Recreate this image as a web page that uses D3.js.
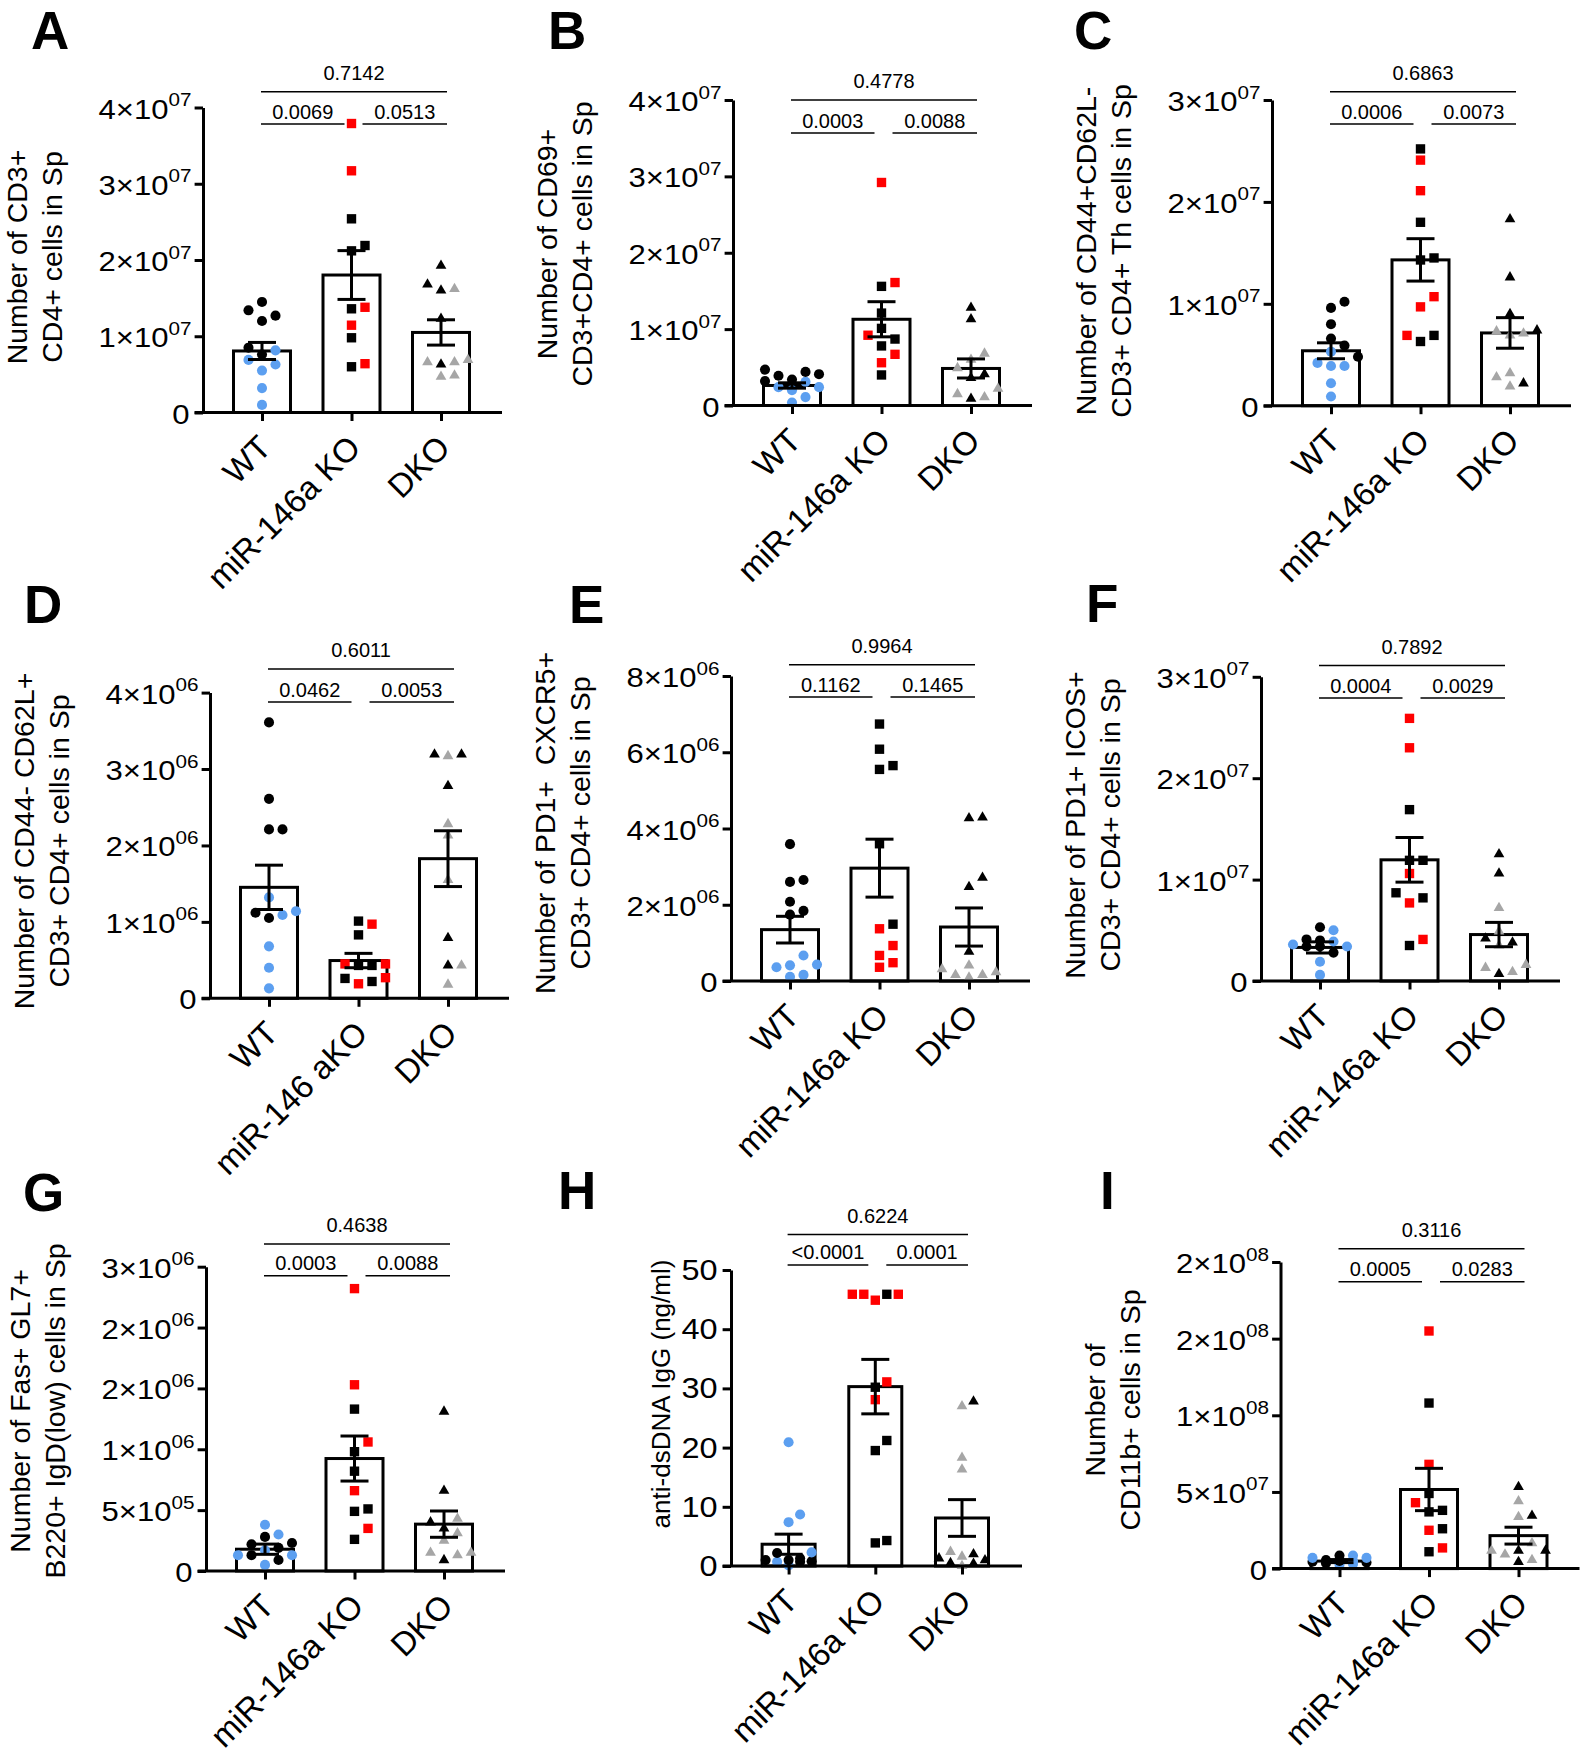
<!DOCTYPE html>
<html><head><meta charset="utf-8">
<script src="https://cdn.jsdelivr.net/npm/d3@7"></script>
<style>
body{margin:0;background:#fff;}
svg{display:block;font-family:"Liberation Sans",Arial,Helvetica,sans-serif;}
</style></head><body>
<svg id="fig" width="1587" height="1755"></svg>
<script>
// ---------------- DATA ----------------
const categories  = ["WT", "miR-146a KO", "DKO"];
const categoriesD = ["WT", "miR-146 aKO", "DKO"];

// A  (values in units of 1e7)
const aWtBlack  = [1.45, 1.34, 1.27, 1.20, 0.85, 0.76];
const aWtBlue   = [0.815, 0.69, 0.63, 0.55, 0.32, 0.10];
const aKoBlack  = [2.54, 2.19, 2.12, 1.36, 0.98, 0.60];
const aKoRed    = [3.79, 3.17, 1.38, 1.145, 0.64];
const aDkoBlack = [1.925, 1.68, 1.60, 1.23, 0.63];
const aDkoGrey  = [1.62, 0.69, 0.66, 0.66, 0.485, 0.47];
const aMeans = [0.807, 1.803, 1.05];
const aSems  = [0.112, 0.32, 0.166];
const aTicks = [0, 1, 2, 3, 4];
const aTickLabels = ["0", "1×10^07", "2×10^07", "3×10^07", "4×10^07"];
const aPvals = ["0.0069", "0.0513", "0.7142"];
const aTitle = ["Number of CD3+", "CD4+ cells in Sp"];

// B  (1e7)
const bWtBlack  = [0.47, 0.44, 0.41, 0.39, 0.34, 0.32];
const bWtBlue   = [0.31, 0.24, 0.24, 0.20, 0.11, 0.04];
const bKoBlack  = [1.56, 1.21, 1.01, 0.87, 0.78, 0.40];
const bKoRed    = [2.92, 1.61, 0.92, 0.67, 0.56];
const bDkoBlack = [1.28, 1.13, 0.41, 0.36, 0.09];
const bDkoGrey  = [0.68, 0.60, 0.49, 0.22, 0.15, 0.11];
const bMeans = [0.262, 1.129, 0.485];
const bSems  = [0.035, 0.23, 0.125];
const bTicks = [0, 1, 2, 3, 4];
const bTickLabels = ["0", "1×10^07", "2×10^07", "3×10^07", "4×10^07"];
const bPvals = ["0.0003", "0.0088", "0.4778"];
const bTitle = ["Number of CD69+", "CD3+CD4+ cells in Sp"];

// C  (1e7)
const cWtBlack  = [1.02, 0.96, 0.80, 0.66, 0.59, 0.48];
const cWtBlue   = [0.53, 0.42, 0.39, 0.39, 0.22, 0.09];
const cKoBlack  = [2.52, 1.80, 1.45, 1.43, 0.69, 0.63];
const cKoRed    = [2.41, 2.11, 1.07, 0.97, 0.69];
const cDkoBlack = [1.83, 1.26, 0.90, 0.74, 0.22];
const cDkoGrey  = [0.73, 0.71, 0.69, 0.32, 0.28, 0.19];
const cMeans = [0.539, 1.431, 0.714];
const cSems  = [0.078, 0.208, 0.15];
const cTicks = [0, 1, 2, 3];
const cTickLabels = ["0", "1×10^07", "2×10^07", "3×10^07"];
const cPvals = ["0.0006", "0.0073", "0.6863"];
const cTitle = ["Number of CD44+CD62L-", "CD3+ CD4+ Th cells in Sp"];

// D  (1e6)
const dWtBlack  = [3.61, 2.61, 2.21, 2.21, 1.12, 1.05];
const dWtBlue   = [1.32, 1.14, 1.09, 0.68, 0.40, 0.13];
const dKoBlack  = [1.01, 0.83, 0.43, 0.43, 0.26, 0.22];
const dKoRed    = [0.97, 0.45, 0.45, 0.27, 0.19];
const dDkoBlack = [3.19, 3.19, 2.78, 0.79, 0.43];
const dDkoGrey  = [3.17, 2.28, 2.13, 1.55, 0.43, 0.18];
const dMeans = [1.452, 0.494, 1.827];
const dSems  = [0.29, 0.094, 0.365];
const dTicks = [0, 1, 2, 3, 4];
const dTickLabels = ["0", "1×10^06", "2×10^06", "3×10^06", "4×10^06"];
const dPvals = ["0.0462", "0.0053", "0.6011"];
const dTitle = ["Number of CD44- CD62L+", "CD3+ CD4+ cells in Sp"];

// E  (1e6)
const eWtBlack  = [3.59, 2.65, 2.60, 2.08, 1.84, 1.74];
const eWtBlue   = [0.67, 0.43, 0.41, 0.36, 0.16, 0.11];
const eKoBlack  = [6.74, 6.08, 5.65, 5.55, 3.60, 1.49];
const eKoRed    = [1.37, 0.93, 0.67, 0.48, 0.36];
const eDkoBlack = [4.29, 4.27, 2.71, 2.47, 0.77];
const eDkoGrey  = [0.41, 0.31, 0.23, 0.16, 0.16, 0.09];
const eMeans = [1.347, 2.96, 1.416];
const eSems  = [0.35, 0.76, 0.5];
const eTicks = [0, 2, 4, 6, 8];
const eTickLabels = ["0", "2×10^06", "4×10^06", "6×10^06", "8×10^06"];
const ePvals = ["0.1162", "0.1465", "0.9964"];
const eTitle = ["Number of PD1+  CXCR5+", "CD3+ CD4+ cells in Sp"];

// F  (1e7)
const fWtBlack  = [0.53, 0.41, 0.40, 0.34, 0.34, 0.28];
const fWtBlue   = [0.50, 0.39, 0.36, 0.34, 0.19, 0.06];
const fKoBlack  = [1.69, 1.19, 1.19, 0.87, 0.82, 0.35];
const fKoRed    = [2.59, 2.30, 1.06, 0.77, 0.41];
const fDkoBlack = [1.25, 1.06, 0.42, 0.38, 0.07];
const fDkoGrey  = [0.72, 0.49, 0.35, 0.16, 0.13, 0.09];
const fMeans = [0.331, 1.195, 0.458];
const fSems  = [0.055, 0.22, 0.12];
const fTicks = [0, 1, 2, 3];
const fTickLabels = ["0", "1×10^07", "2×10^07", "3×10^07"];
const fPvals = ["0.0004", "0.0029", "0.7892"];
const fTitle = ["Number of PD1+ ICOS+", "CD3+ CD4+ cells in Sp"];

// G  (1e6)
const gWtBlack  = [0.28, 0.23, 0.22, 0.19, 0.13, 0.09];
const gWtBlue   = [0.38, 0.30, 0.17, 0.13, 0.13, 0.05];
const gKoBlack  = [1.33, 0.98, 0.82, 0.51, 0.49, 0.26];
const gKoRed    = [2.32, 1.53, 1.06, 0.66, 0.35];
const gDkoBlack = [1.31, 0.66, 0.40, 0.35, 0.09];
const gDkoGrey  = [0.43, 0.31, 0.25, 0.15, 0.15, 0.13];
const gMeans = [0.179, 0.924, 0.385];
const gSems  = [0.042, 0.185, 0.108];
const gTicks = [0, 0.5, 1, 1.5, 2, 2.5];
const gTickLabels = ["0", "5×10^05", "1×10^06", "2×10^06", "2×10^06", "3×10^06"];
const gPvals = ["0.0003", "0.0088", "0.4638"];
const gTitle = ["Number of Fas+ GL7+", "B220+ IgD(low) cells in Sp"];

// H  (ng/ml)
const hWtBlack  = [2.2, 1.3, 1.0, 1.0, 0.8, 0.7];
const hWtBlue   = [20.9, 8.7, 7.4, 2.3, 0.7, 0.1];
const hKoBlack  = [45.9, 30.2, 21.2, 19.5, 4.3, 3.9];
const hKoRed    = [45.9, 45.9, 45.9, 44.9, 31.1, 28.1];
const hDkoBlack = [27.8, 2.0, 1.3, 1.0, 0.5, 0.4];
const hDkoGrey  = [27.0, 18.3, 16.3, 2.4, 1.6, 0.0];
const hMeans = [3.68, 30.3, 8.11];
const hSems  = [1.7, 4.6, 3.1];
const hTicks = [0, 10, 20, 30, 40, 50];
const hTickLabels = ["0", "10", "20", "30", "40", "50"];
const hPvals = ["<0.0001", "0.0001", "0.6224"];
const hTitle = ["anti-dsDNA IgG (ng/ml)"];

// I  (1e7)
const iWtBlack  = [0.85, 0.55, 0.50, 0.45, 0.40, 0.35];
const iWtBlue   = [0.85, 0.70, 0.70, 0.50, 0.30, 0.25];
const iKoBlack  = [10.8, 4.9, 3.8, 3.7, 2.6, 1.1];
const iKoRed    = [15.5, 6.8, 4.3, 2.5, 1.35];
const iDkoBlack = [5.33, 3.45, 1.17, 1.17, 0.44];
const iDkoGrey  = [4.4, 3.37, 1.66, 1.17, 0.93, 0.56];
const iMeans = [0.49, 5.16, 2.15];
const iSems  = [0.1, 1.38, 0.55];
const iTicks = [0, 5, 10, 15, 20];
const iTickLabels = ["0", "5×10^07", "1×10^08", "2×10^08", "2×10^08"];
const iPvals = ["0.0005", "0.0283", "0.3116"];
const iTitle = ["Number of", "CD11b+ cells in Sp"];

// ---------------- PANELS (built from the arrays) ----------------
const panels = [
  {id:"A", cats:categories,  wt:[aWtBlack,aWtBlue], ko:[aKoBlack,aKoRed], dko:[aDkoBlack,aDkoGrey], means:aMeans, sems:aSems, ticks:aTicks, tickLabels:aTickLabels, pvals:aPvals, title:aTitle},
  {id:"B", cats:categories,  wt:[bWtBlack,bWtBlue], ko:[bKoBlack,bKoRed], dko:[bDkoBlack,bDkoGrey], means:bMeans, sems:bSems, ticks:bTicks, tickLabels:bTickLabels, pvals:bPvals, title:bTitle},
  {id:"C", cats:categories,  wt:[cWtBlack,cWtBlue], ko:[cKoBlack,cKoRed], dko:[cDkoBlack,cDkoGrey], means:cMeans, sems:cSems, ticks:cTicks, tickLabels:cTickLabels, pvals:cPvals, title:cTitle},
  {id:"D", cats:categoriesD, wt:[dWtBlack,dWtBlue], ko:[dKoBlack,dKoRed], dko:[dDkoBlack,dDkoGrey], means:dMeans, sems:dSems, ticks:dTicks, tickLabels:dTickLabels, pvals:dPvals, title:dTitle},
  {id:"E", cats:categories,  wt:[eWtBlack,eWtBlue], ko:[eKoBlack,eKoRed], dko:[eDkoBlack,eDkoGrey], means:eMeans, sems:eSems, ticks:eTicks, tickLabels:eTickLabels, pvals:ePvals, title:eTitle},
  {id:"F", cats:categories,  wt:[fWtBlack,fWtBlue], ko:[fKoBlack,fKoRed], dko:[fDkoBlack,fDkoGrey], means:fMeans, sems:fSems, ticks:fTicks, tickLabels:fTickLabels, pvals:fPvals, title:fTitle},
  {id:"G", cats:categories,  wt:[gWtBlack,gWtBlue], ko:[gKoBlack,gKoRed], dko:[gDkoBlack,gDkoGrey], means:gMeans, sems:gSems, ticks:gTicks, tickLabels:gTickLabels, pvals:gPvals, title:gTitle},
  {id:"H", cats:categories,  wt:[hWtBlack,hWtBlue], ko:[hKoBlack,hKoRed], dko:[hDkoBlack,hDkoGrey], means:hMeans, sems:hSems, ticks:hTicks, tickLabels:hTickLabels, pvals:hPvals, title:hTitle},
  {id:"I", cats:categories,  wt:[iWtBlack,iWtBlue], ko:[iKoBlack,iKoRed], dko:[iDkoBlack,iDkoGrey], means:iMeans, sems:iSems, ticks:iTicks, tickLabels:iTickLabels, pvals:iPvals, title:iTitle}
];

// ---------------- LAYOUT (positions / sizes) ----------------
const layout = [
  {ax:203,   y0:412.5,  yTop:107.5,  lx:31,   ly:49,   tCy:257,  topLine:91.7,   lowLine:124},
  {ax:733,   y0:405.5,  yTop:100,    lx:548,  ly:49,   tCy:244,  topLine:100,    lowLine:133},
  {ax:1272,  y0:405.7,  yTop:100,    lx:1074, ly:49,   tCy:251,  topLine:91.7,   lowLine:124},
  {ax:210,   y0:998.3,  yTop:692.6,  lx:24,   ly:623,  tCy:841,  topLine:669,    lowLine:702},
  {ax:731,   y0:981,    yTop:676,    lx:569,  ly:623,  tCy:823,  topLine:664.7,  lowLine:697},
  {ax:1261,  y0:981,    yTop:676.8,  lx:1086, ly:622,  tCy:825,  topLine:665.5,  lowLine:698},
  {ax:206,   y0:1571,   yTop:1266.7, lx:23,   ly:1211, tCy:1411, topLine:1243.9, lowLine:1275.7},
  {ax:731,   y0:1566,   yTop:1270,   lx:558,  ly:1209, tCy:1394, topLine:1234.5, lowLine:1264.9, narrow:true},
  {ax:1280.5,y0:1568.6, yTop:1262,   lx:1100, ly:1209, tCy:1410, topLine:1248.7, lowLine:1281.7}
];

const COL = {black:"#000000", blue:"#5c9ff0", red:"#ff0000", grey:"#a6a6a6"};
const svg = d3.select("#fig");
svg.append("rect").attr("width",1587).attr("height",1755).attr("fill","#fff");

// Prism-like scatter: place each point at the nearest free column offset, limited width
function swarm(points, y, s, D, maxK) {
  const pts = points.map((p,i)=>({...p, i, py:y(p.v)})).sort((a,b)=> (b.py-a.py) || (a.i-b.i));
  const placed = [];
  for (const p of pts) {
    let best = 0, bestScore = -1;
    for (let k=0;k<=2*maxK;k++) {
      const off = k===0 ? 0 : (k%2===1 ? Math.ceil(k/2)*s : -Math.ceil(k/2)*s);
      const md = placed.length ? d3.min(placed, q => Math.hypot(q.dx-off, q.py-p.py)) : Infinity;
      if (md >= D) { best = off; bestScore = Infinity; break; }
      if (md > bestScore) { bestScore = md; best = off; }
    }
    p.dx = best;
    placed.push(p);
  }
  return placed;
}

function drawPanel(p, L) {
  const g = svg.append("g").attr("class","panel-"+p.id);
  const narrow = !!L.narrow;
  const off = narrow ? 57.6 : 59, step = narrow ? 86.7 : 89.5, axLen = narrow ? 291 : 299;
  const bw = narrow ? 53 : 57;
  const y = d3.scaleLinear().domain([0, p.ticks[p.ticks.length-1]]).range([L.y0, L.yTop]);
  const x = d3.scalePoint().domain(p.cats).range([L.ax + off, L.ax + off + 2*step]);

  // bars
  g.selectAll("rect.bar").data(p.cats).enter().append("rect")
    .attr("x", c => x(c) - bw/2).attr("width", bw)
    .attr("y", (c,i) => y(p.means[i])).attr("height", (c,i) => L.y0 - y(p.means[i]))
    .attr("fill","#fff").attr("stroke","#000").attr("stroke-width",3);

  // points
  const groups = [
    {cat:p.cats[0], series:[[p.wt[0],"black"],[p.wt[1],"blue"]], shape:d3.symbolCircle, size:80},
    {cat:p.cats[1], series:[[p.ko[0],"black"],[p.ko[1],"red"]], shape:d3.symbolSquare, size:88},
    {cat:p.cats[2], series:[[p.dko[0],"black"],[p.dko[1],"grey"]], shape:d3.symbolTriangle, size:50}
  ];
  groups.forEach(gr => {
    const pts = [];
    gr.series.forEach(([vals,col]) => vals.forEach(v => pts.push({v, col})));
    const placed = swarm(pts, y, narrow ? 11.5 : 13.5, 11, 2);
    const sym = d3.symbol().type(gr.shape).size(gr.size);
    g.selectAll(null).data(placed).enter().append("path")
      .attr("d", sym)
      .attr("transform", d => `translate(${x(gr.cat)+d.dx},${d.py})`)
      .attr("fill", d => COL[d.col]);
  });

  // error bars
  p.cats.forEach((c,i) => {
    const cx = x(c), hi = y(p.means[i]+p.sems[i]), lo = y(Math.max(0,p.means[i]-p.sems[i]));
    const eg = g.append("g").attr("stroke","#000").attr("stroke-width",3);
    eg.append("line").attr("x1",cx).attr("x2",cx).attr("y1",hi).attr("y2",lo);
    eg.append("line").attr("x1",cx-14).attr("x2",cx+14).attr("y1",hi).attr("y2",hi);
    eg.append("line").attr("x1",cx-14).attr("x2",cx+14).attr("y1",lo).attr("y2",lo);
  });

  // y axis
  const ya = g.append("g").attr("transform",`translate(${L.ax},0)`)
    .call(d3.axisLeft(y).tickValues(p.ticks).tickSize(8.4).tickSizeOuter(0).tickFormat(""));
  ya.select(".domain").attr("stroke","#000").attr("stroke-width",3);
  ya.selectAll(".tick line").attr("stroke","#000").attr("stroke-width",3);

  // x axis
  g.append("line").attr("x1",L.ax-8.4).attr("x2",L.ax+axLen).attr("y1",L.y0).attr("y2",L.y0)
    .attr("stroke","#000").attr("stroke-width",3);
  const xa = g.append("g").attr("transform",`translate(0,${L.y0})`)
    .call(d3.axisBottom(x).tickSize(8.5).tickSizeOuter(0).tickFormat(""));
  xa.select(".domain").remove();
  xa.selectAll(".tick line").attr("stroke","#000").attr("stroke-width",3);

  // y tick labels
  const fs = narrow ? 29 : 27, sx = narrow ? 1.12 : 1.15;
  p.ticks.forEach((tv,i) => {
    const lab = p.tickLabels[i];
    const parts = lab.split("^");
    const tx = L.ax - (parts[1] ? 11.5 : 13.5);
    const t = g.append("text").attr("text-anchor","end")
      .attr("transform",`translate(${tx},${y(tv) + (narrow ? 10 : 11)}) scale(${sx},1)`)
      .attr("font-size",fs).attr("fill","#000");
    t.append("tspan").text(parts[0]);
    if (parts[1]) t.append("tspan").attr("font-size",18).attr("dy",-12.5).text(parts[1]);
  });

  // x labels
  p.cats.forEach(c => {
    g.append("text").attr("text-anchor","end").attr("font-size",33)
      .attr("transform",`translate(${x(c)+11},${L.y0+37}) rotate(-45)`).text(c);
  });

  // title
  const tfs = narrow ? 26 : 28.5;
  const tdx = p.title.length === 1 ? [-61] : [-176, -141];
  p.title.forEach((line,i) => {
    g.append("text").attr("text-anchor","middle").attr("font-size",tfs)
      .attr("xml:space","preserve").style("white-space","pre")
      .attr("transform",`translate(${L.ax + tdx[i]},${L.tCy}) rotate(-90)`).text(line);
  });

  // significance brackets
  const c0 = x(p.cats[0]), c1 = x(p.cats[1]), c2 = x(p.cats[2]);
  const br = [
    [c0-1, c1-7, L.lowLine, p.pvals[0], 5.5],
    [c1+11, c2+6, L.lowLine, p.pvals[1], 5.5],
    [c0-1, c2+6, L.topLine, p.pvals[2], 12]
  ];
  br.forEach(([x1,x2,yy,lab,gap]) => {
    g.append("line").attr("x1",x1).attr("x2",x2).attr("y1",yy).attr("y2",yy)
      .attr("stroke","#000").attr("stroke-width",1.5);
    g.append("text").attr("text-anchor","middle").attr("font-size",20)
      .attr("x",(x1+x2)/2).attr("y",yy-gap).text(lab);
  });

  // panel letter
  g.append("text").attr("x",L.lx).attr("y",L.ly).attr("font-size",53).attr("font-weight","bold").text(p.id);
}

panels.forEach((p,i) => drawPanel(p, layout[i]));
</script>
</body></html>
